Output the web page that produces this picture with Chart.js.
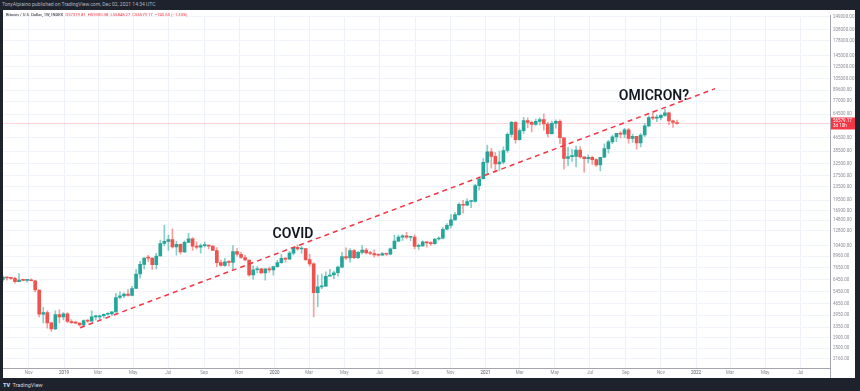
<!DOCTYPE html>
<html>
<head>
<meta charset="utf-8">
<script src="https://cdn.jsdelivr.net/npm/chart.js@4.4.1/dist/chart.umd.min.js"></script>
<style>
  body { margin: 0; width: 860px; height: 391px; overflow: hidden; background: #1e222d; position: relative; font-family: Roboto, "Liberation Sans", sans-serif; }
  #publisher { position: absolute; left: 2px; top: 1px; font-size: 5px; line-height: 7px; color: #b2b5be; white-space: nowrap; }
  #wrap { position: absolute; left: 3px; top: 10px; width: 852px; height: 368px; background: #fff; }
  #symbol { position: absolute; left: 6px; top: 12px; font-size: 4.2px; line-height: 6px; color: #131722; white-space: nowrap; }
  #symbol .v { color: #f23645; }
  #logo { position: absolute; left: 3px; top: 382px; font-size: 5.5px; line-height: 7px; color: #d1d4dc; white-space: nowrap; }
  #logo b { font-weight: 900; margin-right: 1px; }
</style>
</head>
<body>
<div id="publisher">TonyAlpiaino published on TradingView.com, Dec 02, 2021 14:34 UTC</div>
<div id="wrap"><canvas id="chart" width="852" height="368"></canvas></div>
<div id="symbol">Bitcoin / U.S. Dollar, 1W, INDEX&nbsp; <span class="v">O57319.81&nbsp; H59300.38&nbsp; L55848.27&nbsp; C56579.17&nbsp; −743.60 (−1.30%)</span></div>
<div id="logo"><b>TV</b> TradingView</div>
<script>
// Weekly candles, first bar = week of 2018-09-17
const firstWeek = '2018-09-17';

const opens = [
    6500, 6700, 6620, 6590, 6290, 6420, 6400, 6400, 6370, 5600, 4000, 4100, 3550, 3260, 3980, 3860,
    4020, 3620, 3560, 3540, 3450, 3660, 3640, 3860, 3860, 3920, 4000, 4020, 4140, 5050, 5170, 5300, 5200,
    5720, 7000, 8000, 8740, 8730, 7970, 8980, 10690, 11000, 11300, 10200, 10560, 9500, 10860, 11400, 10300,
    10150, 10380, 10400, 10300, 9700, 8200, 7870, 8280, 8220, 9550, 9200, 8800, 8500, 6900, 7420, 7510, 7110, 7510, 7400,
    7760, 8190, 8700, 8600, 9350, 10150, 9900, 9950, 8550, 8050, 5400, 5850, 5900, 6780, 6900, 7120, 7700,
    8900, 8750, 9680, 8790, 9450, 9750, 9380, 9300, 9120, 9080, 9300, 9200, 9930, 11050, 11680, 11900, 11650,
    11700, 10280, 10330, 10940, 10770, 10670, 11380, 11500, 13030, 13740, 14830, 15960, 18400, 18180, 19150, 19150, 23850, 26270,
    33000, 38200, 35800, 32300, 33100, 38900, 48600, 57500, 45200, 51200, 59000, 57400, 55800, 58200, 59800, 56200,
    49100, 56600, 58300, 46400, 34800, 35700, 35800, 39100, 35600, 34700, 35300, 34250, 31800, 35400, 39900, 43800,
    47000, 49300, 48800, 51800, 46000, 47300, 43200, 48200, 54700, 61500, 61000, 61300, 63300, 65500, 58700, 57319.81
];
const highs = [
    6800, 6750, 6650, 6700, 7050, 6530, 6500, 6550, 6400, 5620, 4400, 4200, 3590, 4200, 4250, 4100,
    4100, 3720, 3640, 3560, 3700, 3700, 4200, 3950, 3950, 4030, 4100, 4150, 5350, 5480, 5380, 5640, 5900,
    7450, 8350, 8800, 9080, 8750, 9330, 11200, 13800, 12000, 13100, 11000, 10650, 11100, 12300, 11600, 10950,
    10630, 10900, 10450, 10380, 10100, 8500, 8700, 8420, 10370, 9950, 9500, 9080, 8520, 7850, 7750, 7580, 7530, 7700, 7800,
    8460, 9200, 8750, 9600, 10150, 10500, 10250, 9990, 9180, 8180, 6900, 6980, 7200, 7470, 7280, 7800, 9460,
    10050, 9950, 9850, 9600, 10400, 10000, 9600, 9800, 9300, 9450, 9350, 10050, 12000, 12000, 12100, 12500,
    11800, 12050, 10650, 11100, 10990, 10950, 11450, 11720, 13350, 14100, 15950, 16500, 18800, 19450, 19900, 19450, 24300, 26900, 34800,
    41950, 40100, 37850, 38500, 40900, 49700, 58350, 58000, 52600, 61700, 61200, 58400, 60100, 61300, 64800, 57500,
    58400, 59500, 59500, 46600, 40800, 39500, 41300, 41000, 35750, 36600, 35950, 34700, 35400, 42600, 44700, 48100,
    49400, 50500, 52900, 52900, 48800, 47400, 49200, 56500, 62900, 67000, 63700, 64300, 69000, 66300, 59300, 59300.38
];
const lows = [
    6280, 6420, 6480, 6170, 6270, 6360, 6250, 6350, 5450, 3850, 3550, 3300, 3150, 3230, 3550, 3700,
    3550, 3520, 3500, 3390, 3380, 3570, 3620, 3700, 3680, 3800, 3950, 3930, 4100, 4950, 5030, 5150, 5170,
    5700, 6600, 7500, 8300, 7450, 7520, 8950, 10350, 9700, 10000, 9100, 9200, 9400, 10800, 9700, 9900,
    9350, 10150, 9900, 9700, 7750, 7800, 7780, 7800, 7350, 8950, 8700, 8400, 6800, 6520, 7100, 7050, 6430, 7150, 6880,
    7700, 8100, 8250, 8550, 9120, 9700, 9300, 8450, 7800, 3850, 4450, 5700, 5860, 6780, 6550, 6800, 7650,
    8550, 8250, 8650, 8650, 9250, 9250, 9150, 8850, 8950, 9050, 9050, 9130, 9900, 10980, 11150, 11400,
    11120, 9900, 9850, 10250, 10150, 10400, 10550, 11200, 11400, 12900, 13250, 14800, 15800, 16300, 18100, 17600, 19000, 22400, 26100,
    28100, 30400, 28800, 29400, 32300, 37900, 47000, 43000, 44900, 49300, 53300, 50400, 55000, 55500, 51500, 47000,
    48800, 53000, 42800, 30000, 31500, 33400, 31000, 34900, 28800, 32700, 32100, 31100, 29300, 35200, 37500, 42800,
    43900, 46300, 46500, 43000, 43500, 39600, 40800, 47100, 53900, 59600, 58000, 59500, 62300, 55600, 53600, 55848.27
];
const closes = [
    6700, 6620, 6590, 6290, 6420, 6400, 6400, 6370, 5600, 4000, 4100, 3550, 3260, 3980, 3860, 4020,
    3620, 3560, 3540, 3450, 3660, 3640, 3860, 3860, 3920, 4000, 4020, 4140, 5050, 5170, 5300, 5200, 5720,
    7000, 8000, 8740, 8730, 7970, 8980, 10690, 11000, 11300, 10200, 10560, 9500, 10860, 11400, 10300, 10150,
    10380, 10400, 10300, 9700, 8200, 7870, 8280, 8220, 9550, 9200, 8800, 8500, 6900, 7420, 7510, 7110, 7510, 7400, 7760,
    8190, 8700, 8600, 9350, 10150, 9900, 9950, 8550, 8050, 5400, 5850, 5900, 6780, 6900, 7120, 7700, 8900,
    8750, 9680, 8790, 9450, 9750, 9380, 9300, 9120, 9080, 9300, 9200, 9930, 11050, 11680, 11900, 11650,
    11700, 10280, 10330, 10940, 10770, 10670, 11380, 11500, 13030, 13740, 14830, 15960, 18400, 18180, 19150, 19150, 23850, 26270, 33000,
    38200, 35800, 32300, 33100, 38900, 48600, 57500, 45200, 51200, 59000, 57400, 55800, 58200, 59800, 56200, 49100,
    56600, 58300, 46400, 34800, 35700, 35800, 39100, 35600, 34700, 35300, 34250, 31800, 35400, 39900, 43800, 47000,
    49300, 48800, 51800, 46000, 47300, 43200, 48200, 54700, 61500, 61000, 61300, 63300, 65500, 58700, 57322.77, 56579.17
];

// Price axis labels (log scale) and time axis labels
const priceTicks = [249000, 208000, 178000, 145000, 125000, 105000, 89600, 77000, 64500, 46500, 38500, 32500,
    27500, 23500, 19500, 16900, 14800, 12800, 10400, 8960, 7650, 6450, 5450, 4650, 3950, 3350, 2900, 2500, 2160];
const tickDates = ['2018-11-01', '2019-01-01', '2019-03-01', '2019-05-01', '2019-07-01', '2019-09-01', '2019-11-01',
    '2020-01-01', '2020-03-01', '2020-05-01', '2020-07-01', '2020-09-01', '2020-11-01',
    '2021-01-01', '2021-03-01', '2021-05-01', '2021-07-01', '2021-09-01', '2021-11-01',
    '2022-01-01', '2022-03-01', '2022-05-01', '2022-07-01'];
const tickLabels = ['Nov', '2019', 'Mar', 'May', 'Jul', 'Sep', 'Nov', '2020', 'Mar', 'May', 'Jul', 'Sep', 'Nov',
    '2021', 'Mar', 'May', 'Jul', 'Sep', 'Nov', '2022', 'Mar', 'May', 'Jul'];

// Drawn trend line and notes
const trendDates = ['2019-01-29', '2022-02-03'];
const trendPrices = [3320, 91800];
const noteDates = ['2020-02-02', '2021-10-20'];
const notePrices = [12160, 82400];
const noteTexts = ['COVID', 'OMICRON?'];

const UP = '#26a69a';
const DOWN = '#ef5350';

const weekOf = d => (Date.parse(d) - Date.parse(firstWeek)) / (7 * 864e5);
const xMin = 0.03;
const xMax = 204.9;
const last = closes[closes.length - 1];

const isUp = closes.map((c, i) => c >= opens[i]);

const overlay = {
    id: 'overlay',
    afterDatasetsDraw(chart) {
        const { ctx, scales: { x, y } } = chart;
        ctx.save();
        ctx.fillStyle = '#131722';
        ctx.font = '600 14px Roboto';
        ctx.textAlign = 'center';
        ctx.textBaseline = 'middle';
        noteTexts.forEach((t, i) => {
            ctx.fillText(t, x.getPixelForValue(weekOf(noteDates[i])), y.getPixelForValue(notePrices[i]));
        });
        ctx.restore();
    },
    afterDraw(chart) {
        const { ctx, chartArea: a, scales: { y } } = chart;
        ctx.save();
        // axis divider through time scale
        ctx.strokeStyle = '#a3a6af';
        ctx.lineWidth = 1;
        ctx.beginPath();
        ctx.moveTo(a.right + 0.5, a.bottom);
        ctx.lineTo(a.right + 0.5, chart.height);
        ctx.stroke();
        // current price tag
        const py = y.getPixelForValue(last);
        ctx.fillStyle = '#f23645';
        ctx.fillRect(a.right + 1, py - 6, 24, 12);
        ctx.fillStyle = '#fff';
        ctx.font = '4.5px Roboto';
        ctx.textBaseline = 'middle';
        ctx.fillText(last.toFixed(2), a.right + 3, py - 2.5);
        ctx.fillText('3d 10h', a.right + 3, py + 2.5);
        ctx.restore();
    }
};

new Chart(document.getElementById('chart'), {
    type: 'bar',
    data: {
        datasets: [
            {
                type: 'line',
                data: [{ x: xMin, y: last }, { x: xMax, y: last }],
                borderColor: 'rgba(242, 54, 69, 0.22)',
                borderWidth: 1,
                pointRadius: 0,
                order: 3
            },
            {
                data: closes.map((c, i) => ({ x: i, y: [lows[i], highs[i]] })),
                backgroundColor: isUp.map(u => u ? 'rgba(38, 166, 154, 0.55)' : 'rgba(239, 83, 80, 0.55)'),
                barThickness: 1,
                grouped: false,
                order: 2
            },
            {
                data: closes.map((c, i) => ({ x: i, y: [opens[i], c] })),
                backgroundColor: isUp.map(u => u ? UP : DOWN),
                barThickness: 3,
                minBarLength: 1,
                grouped: false,
                order: 1
            },
            {
                type: 'line',
                data: trendDates.map((d, i) => ({ x: weekOf(d), y: trendPrices[i] })),
                borderColor: '#f23645',
                borderWidth: 1.5,
                borderDash: [5, 4],
                pointRadius: 0,
                order: 0
            }
        ]
    },
    options: {
        responsive: false,
        animation: false,
        layout: { padding: 0 },
        plugins: { legend: { display: false }, tooltip: { enabled: false } },
        scales: {
            x: {
                type: 'linear',
                min: xMin,
                max: xMax,
                offset: false,
                afterBuildTicks: s => { s.ticks = tickDates.map(d => ({ value: weekOf(d) })); },
                afterFit: s => { s.height = 10; },
                ticks: {
                    autoSkip: false,
                    maxRotation: 0,
                    padding: 2,
                    font: { size: 4.5, family: 'Roboto' },
                    color: c => /^\d{4}$/.test(tickLabels[c.index]) ? '#50535e' : '#8a8d96',
                    callback: (v, i) => tickLabels[i]
                },
                grid: { color: '#eef1f7', drawTicks: false, offset: false },
                border: { color: '#a3a6af' }
            },
            y: {
                type: 'logarithmic',
                position: 'right',
                min: 1897,
                max: 252700,
                afterBuildTicks: s => { s.ticks = priceTicks.map(v => ({ value: v })); },
                afterFit: s => { s.width = 25; },
                ticks: {
                    autoSkip: false,
                    padding: 3,
                    font: { size: 4.5, family: 'Roboto' },
                    color: '#8a8d96',
                    callback: v => Number(v).toFixed(2)
                },
                grid: { color: '#f0f3fa', drawTicks: false },
                border: { color: '#a3a6af' }
            }
        }
    },
    plugins: [overlay]
});
</script>
</body>
</html>
